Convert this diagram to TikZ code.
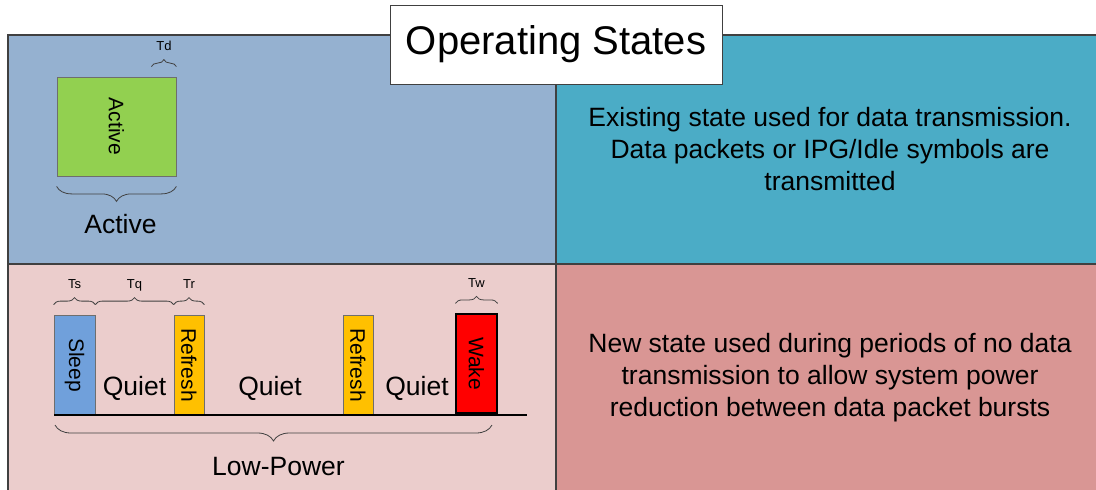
\documentclass[tikz,border=0pt]{standalone}
\usepackage{fontspec}
\setmainfont{Liberation Sans}
\usetikzlibrary{calc,decorations.pathreplacing}

\definecolor{actbg}{RGB}{149,177,208}
\definecolor{actinfo}{RGB}{75,172,198}
\definecolor{lpbg}{RGB}{235,205,204}
\definecolor{lpinfo}{RGB}{217,150,148}
\definecolor{actgreen}{RGB}{146,208,80}
\definecolor{sleepblue}{RGB}{112,160,219}
\definecolor{refresh}{RGB}{255,192,0}
\definecolor{edgec}{RGB}{64,64,64}
\definecolor{boxedge}{RGB}{110,110,110}

\tikzset{
  stbox/.style={draw=boxedge,line width=0.8pt,inner sep=0pt},
  vtext/.style={rotate=-90,font=\fontsize{21}{25}\selectfont},
  bigtext/.style={font=\fontsize{26.5}{32}\selectfont},
  smalltext/.style={font=\fontsize{13}{15}\selectfont},
  brc/.style={decorate,decoration={brace,amplitude=#1},draw=edgec,line width=0.8pt},
  brc/.default=7pt,
  lowbrc/.style={decorate,decoration={brace,mirror,amplitude=#1},draw=edgec,line width=0.8pt},
  lowbrc/.default=16pt
}

\begin{document}
\begin{tikzpicture}[x=1pt,y=-1pt]
\clip (0,0) rectangle (1096,490);
% panels
\fill[actbg] (8,35) rectangle (556,264);
\fill[actinfo] (556,35) rectangle (1100,264);
\fill[lpbg] (8,264) rectangle (556,494);
\fill[lpinfo] (556,264) rectangle (1100,494);
\draw[edgec,line width=1.2pt] (8,494) -- (8,35) -- (1100,35);
\draw[edgec,line width=1.2pt] (556,35) -- (556,494);
\draw[edgec,line width=1.2pt] (8,264) -- (1100,264);

\node[draw=edgec,fill=white,line width=1pt,minimum width=332pt,minimum height=79pt,
  font=\fontsize{40}{48}\selectfont] (title) at (556,44.5) {Operating States};

% active state
\node[stbox,fill=actgreen,minimum width=119pt,minimum height=99pt] (act) at (116.5,126.5) {};
\node[vtext] (actlbl) at (act) {Active};
\draw[brc] ([xshift=-25pt,yshift=10pt]act.north east) -- node[midway,anchor=base,yshift=16pt,smalltext] (td) {Td} ([yshift=10pt]act.north east);
\draw[lowbrc=15pt] ([yshift=-10pt]act.south west) -- node[midway,anchor=base,yshift=-47pt,xshift=4pt,bigtext] (actname) {Active} ([yshift=-10pt]act.south east);

\node[bigtext,align=center] (actdesc) at (830,149) {Existing state used for data transmission.\\Data packets or IPG/Idle symbols are\\transmitted};

% low-power state
\node[stbox,fill=sleepblue,minimum width=41pt,minimum height=100pt] (sleep) at (74.5,365) {};
\node[vtext] (sleeplbl) at (sleep) {Sleep};
\node[stbox,fill=refresh,minimum width=30pt,minimum height=100pt] (ref1) at (189,365) {};
\node[vtext] (ref1lbl) at (ref1) {Refresh};
\node[stbox,fill=refresh,minimum width=30pt,minimum height=100pt] (ref2) at (358,365) {};
\node[vtext] (ref2lbl) at (ref2) {Refresh};
\node[stbox,draw=black,line width=1.2pt,fill=red,minimum width=41pt,minimum height=99pt] (wake) at (476.5,363.5) {};
\node[vtext] (wakelbl) at (wake) {Wake};
\foreach \x [count=\i] in {134.5,270,417}
\node[bigtext,anchor=base] (quiet\i) at (\x,395) {Quiet};

\coordinate (lnA) at (54,415);
\coordinate (lnB) at (527,415);
\draw[black,line width=1.3pt] (lnA) -- (lnB);

\foreach \p/\q/\t in {sleep.north west/sleep.north east/Ts,sleep.north east/ref1.north west/Tq,ref1.north west/ref1.north east/Tr,wake.north west/wake.north east/Tw}
\draw[brc] ([yshift=10pt]\p) -- node[midway,anchor=base,yshift=16pt,smalltext] {\t} ([yshift=10pt]\q);

\coordinate (lpA) at (55,425);
\coordinate (lpB) at (492,425);
\draw[lowbrc] (lpA) -- node[midway,anchor=base,yshift=-50pt,xshift=5pt,bigtext] (lpname) {Low-Power} (lpB);

\node[bigtext,align=center] (lpdesc) at (830,378) {New state used during periods of no data\\transmission to allow system power\\reduction between data packet bursts};
\end{tikzpicture}
\end{document}
